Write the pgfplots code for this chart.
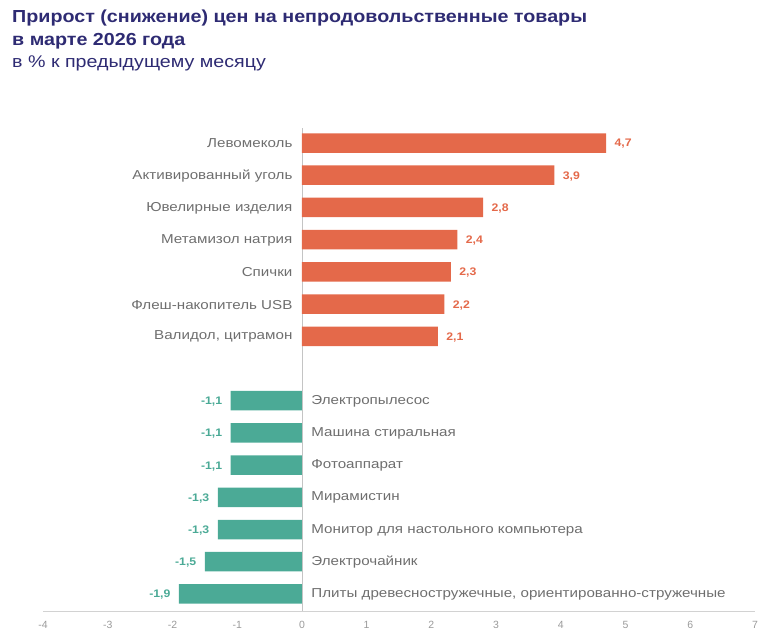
\documentclass[border=0pt]{standalone}
\usepackage{fontspec}
\setmainfont{Liberation Sans}
\newfontfamily\titlefont{Liberation Sans}[FakeStretch=1.13]
\newfontfamily\subfont{Liberation Sans}[FakeStretch=1.16]
\newfontfamily\labfont{Liberation Sans}[FakeStretch=1.17]
\newfontfamily\valfont{Liberation Sans}[FakeStretch=1.12]
\usepackage{pgfplots}
\pgfplotsset{compat=1.18}
\definecolor{barorange}{HTML}{E4694A}
\definecolor{barteal}{HTML}{4BAA96}
\definecolor{titlenavy}{HTML}{2E2B73}
\definecolor{labelgray}{HTML}{6E6E6E}
\definecolor{tickgray}{HTML}{9A9A9A}
\definecolor{axisgray}{HTML}{D2D2D2}
\definecolor{zerogray}{HTML}{C4C4C4}
\begin{document}
\begin{tikzpicture}
\path[use as bounding box] (0bp,0bp) rectangle (771bp,637bp);
\node[anchor=base west, inner sep=0pt, text=titlenavy, font=\titlefont\fontsize{17.5}{20}\selectfont\bfseries] at (12bp,614.5bp) {Прирост (снижение) цен на непродовольственные товары};
\node[anchor=base west, inner sep=0pt, text=titlenavy, font=\titlefont\fontsize{17.5}{20}\selectfont\bfseries] at (12bp,591.3bp) {в марте 2026 года};
\node[anchor=base west, inner sep=0pt, text=titlenavy, font=\subfont\fontsize{17}{20}\selectfont] at (12bp,569.5bp) {в \% к предыдущему месяцу};
\begin{axis}[
  at={(43bp,26bp)}, anchor=south west,
  scale only axis, width=712bp, height=483bp,
  xmin=-4, xmax=7, ymin=-0.466, ymax=14.53,
  y dir=reverse,
  axis line style={draw=none},
  ytick=\empty,
  xtick={-4,-3,...,7},
  major tick length=0pt,
  xticklabel style={font=\fontsize{10.5}{12}\selectfont, text=tickgray, yshift=-7bp},
  /pgf/number format/assume math mode=true,
  extra x ticks={0}, extra x tick labels={},
  extra x tick style={grid=major, major grid style={draw=zerogray, line width=0.8bp}},
  clip=false,
]
\draw[axisgray, line width=1bp] (axis cs:-4,14.53) -- (axis cs:7,14.53);
\addplot[xbar, bar shift=0pt, bar width=19.5bp, fill=barorange, draw=none,
  point meta=x,
  nodes near coords={\pgfmathprintnumber[fixed,precision=1,fixed zerofill,use comma,assume math mode=true]{\pgfplotspointmeta}},
  every node near coord/.append style={anchor=west, xshift=5bp, yshift=-1bp, font=\valfont\fontsize{11}{13}\selectfont\bfseries, text=barorange}]
  coordinates {(4.7,0) (3.9,1) (2.8,2) (2.4,3) (2.3,4) (2.2,5) (2.1,6)};
\addplot[xbar, bar shift=0pt, bar width=19.5bp, fill=barteal, draw=none,
  point meta=x,
  nodes near coords={\pgfmathprintnumber[fixed,precision=1,fixed zerofill,use comma,assume math mode=true]{\pgfplotspointmeta}},
  every node near coord/.append style={anchor=east, xshift=-5bp, yshift=-1bp, font=\valfont\fontsize{11}{13}\selectfont\bfseries, text=barteal}]
  coordinates {(-1.1,8) (-1.1,9) (-1.1,10) (-1.3,11) (-1.3,12) (-1.5,13) (-1.9,14)};
\addplot[draw=none, mark=none, point meta=explicit symbolic,
  nodes near coords,
  every node near coord/.append style={anchor=east, xshift=-6bp, yshift=-0.5bp, font=\labfont\fontsize{13}{15}\selectfont, text=labelgray}]
  coordinates {(0,0) [Левомеколь] (0,1) [Активированный уголь] (0,2) [Ювелирные изделия] (0,3) [Метамизол натрия] (0,4) [Спички] (0,5) [Флеш-накопитель USB] (0,6) [{Валидол, цитрамон}]};
\addplot[draw=none, mark=none, point meta=explicit symbolic,
  nodes near coords,
  every node near coord/.append style={anchor=west, xshift=6bp, yshift=-0.5bp, font=\labfont\fontsize{13}{15}\selectfont, text=labelgray}]
  coordinates {(0,8) [Электропылесос] (0,9) [Машина стиральная] (0,10) [Фотоаппарат] (0,11) [Мирамистин] (0,12) [Монитор для настольного компьютера] (0,13) [Электрочайник] (0,14) [{Плиты древесностружечные, ориентированно-стружечные}]};
\end{axis}
\end{tikzpicture}
\end{document}
